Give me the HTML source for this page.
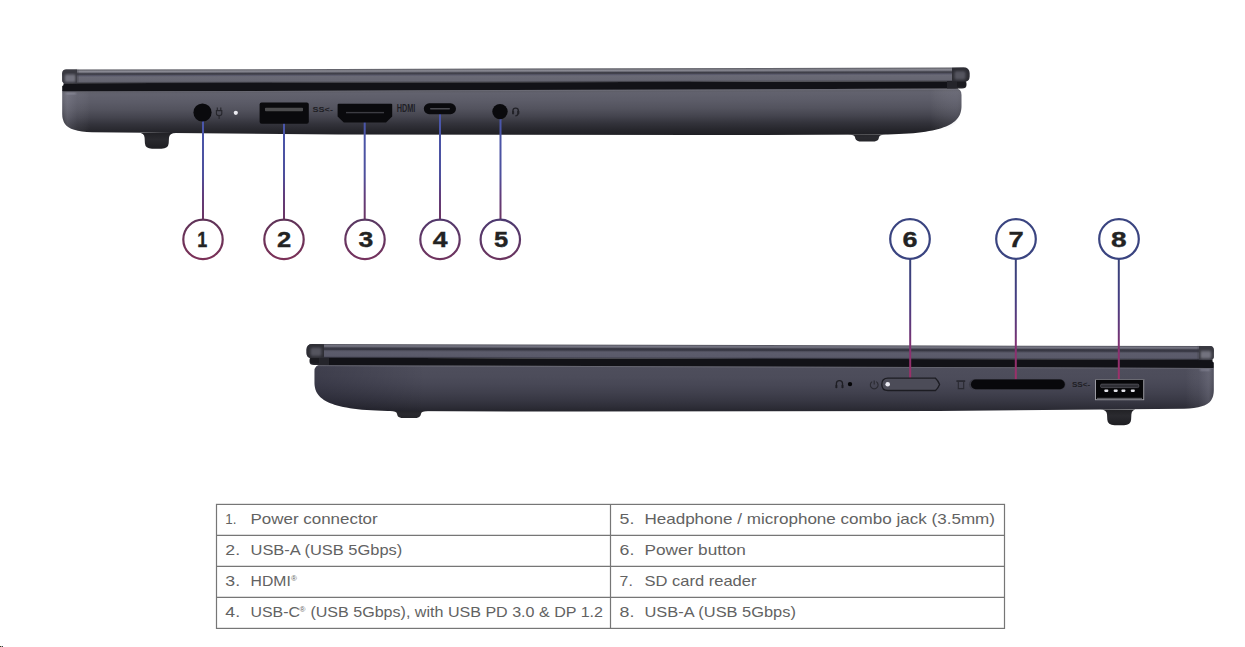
<!DOCTYPE html>
<html><head><meta charset="utf-8">
<style>
html,body{margin:0;padding:0;background:#fff;width:1245px;height:647px;overflow:hidden;}
svg{position:absolute;left:0;top:0;display:block;}
.num{font-family:"Liberation Sans",sans-serif;font-weight:bold;font-size:22.5px;fill:#232323;stroke:#232323;stroke-width:0.35px;}
.tt{font-family:"Liberation Sans",sans-serif;font-size:14.5px;fill:#626262;}
.reg{font-family:"Liberation Sans",sans-serif;font-size:8px;fill:#666;}
.lbl{font-family:"Liberation Sans",sans-serif;font-size:8px;fill:#2a2a30;}
</style></head>
<body>
<svg width="1245" height="647" viewBox="0 0 1245 647">
<defs>
  <linearGradient id="lidG" gradientUnits="userSpaceOnUse" x1="0" y1="67.6" x2="0" y2="81.4">
    <stop offset="0" stop-color="#55555d"/>
    <stop offset="0.06" stop-color="#6e6e76"/>
    <stop offset="0.15" stop-color="#8a8a94"/>
    <stop offset="0.23" stop-color="#6a6a74"/>
    <stop offset="0.3" stop-color="#3e3e48"/>
    <stop offset="0.37" stop-color="#42424c"/>
    <stop offset="0.45" stop-color="#58586a"/>
    <stop offset="0.54" stop-color="#6a6a76"/>
    <stop offset="0.86" stop-color="#666672"/>
    <stop offset="0.93" stop-color="#55555f"/>
    <stop offset="1" stop-color="#1e1e24"/>
  </linearGradient>
  <linearGradient id="baseG" gradientUnits="userSpaceOnUse" x1="0" y1="88.3" x2="0" y2="134.5">
    <stop offset="0" stop-color="#2a2a30"/>
    <stop offset="0.022" stop-color="#70707a"/>
    <stop offset="0.045" stop-color="#5e5e68"/>
    <stop offset="0.08" stop-color="#62626e"/>
    <stop offset="0.25" stop-color="#5c5c68"/>
    <stop offset="0.42" stop-color="#53535e"/>
    <stop offset="0.59" stop-color="#44444e"/>
    <stop offset="0.74" stop-color="#33333b"/>
    <stop offset="0.89" stop-color="#26262c"/>
    <stop offset="1" stop-color="#1f1f24"/>
  </linearGradient>
  <linearGradient id="baseG2" gradientUnits="userSpaceOnUse" x1="0" y1="88.3" x2="0" y2="134.5">
    <stop offset="0" stop-color="#25252c"/>
    <stop offset="0.022" stop-color="#5e5e6b"/>
    <stop offset="0.045" stop-color="#4e4e5c"/>
    <stop offset="0.25" stop-color="#4c4c5a"/>
    <stop offset="0.42" stop-color="#474755"/>
    <stop offset="0.59" stop-color="#40404d"/>
    <stop offset="0.74" stop-color="#383844"/>
    <stop offset="0.89" stop-color="#2e2e38"/>
    <stop offset="1" stop-color="#25252d"/>
  </linearGradient>
  <linearGradient id="lidG2" gradientUnits="userSpaceOnUse" x1="0" y1="67.6" x2="0" y2="81.4">
    <stop offset="0" stop-color="#4a4a54"/>
    <stop offset="0.05" stop-color="#62626e"/>
    <stop offset="0.12" stop-color="#767684"/>
    <stop offset="0.2" stop-color="#62626e"/>
    <stop offset="0.27" stop-color="#3a3a46"/>
    <stop offset="0.38" stop-color="#363642"/>
    <stop offset="0.46" stop-color="#50505e"/>
    <stop offset="0.55" stop-color="#5c5c6c"/>
    <stop offset="0.86" stop-color="#5a5a6a"/>
    <stop offset="0.93" stop-color="#4a4a58"/>
    <stop offset="1" stop-color="#1c1c24"/>
  </linearGradient>
  <linearGradient id="leftHL" gradientUnits="userSpaceOnUse" x1="62" y1="0" x2="90" y2="0">
    <stop offset="0" stop-color="#ffffff" stop-opacity="0"/>
    <stop offset="0.2" stop-color="#b0b0c0" stop-opacity="0.22"/>
    <stop offset="0.55" stop-color="#b0b0c0" stop-opacity="0.08"/>
    <stop offset="1" stop-color="#ffffff" stop-opacity="0"/>
  </linearGradient>
  <linearGradient id="rightHL" gradientUnits="userSpaceOnUse" x1="930" y1="0" x2="962" y2="0">
    <stop offset="0" stop-color="#ffffff" stop-opacity="0"/>
    <stop offset="0.8" stop-color="#b0b0c0" stop-opacity="0.12"/>
    <stop offset="1" stop-color="#ffffff" stop-opacity="0.02"/>
  </linearGradient>
  <linearGradient id="rightDK" gradientUnits="userSpaceOnUse" x1="850" y1="0" x2="962" y2="0">
    <stop offset="0" stop-color="#000010" stop-opacity="0"/>
    <stop offset="0.6" stop-color="#000010" stop-opacity="0.12"/>
    <stop offset="1" stop-color="#000010" stop-opacity="0.2"/>
  </linearGradient>
  <linearGradient id="footG" gradientUnits="userSpaceOnUse" x1="0" y1="128" x2="0" y2="147">
    <stop offset="0" stop-color="#1c1c20"/>
    <stop offset="0.5" stop-color="#2a2a2f"/>
    <stop offset="1" stop-color="#1e1e22"/>
  </linearGradient>
  <linearGradient id="lineTop" gradientUnits="userSpaceOnUse" x1="0" y1="130" x2="0" y2="220">
    <stop offset="0" stop-color="#4a56aa"/>
    <stop offset="0.5" stop-color="#4d4f9c"/>
    <stop offset="0.72" stop-color="#613d7c"/>
    <stop offset="1" stop-color="#6c3462"/>
  </linearGradient>
  <linearGradient id="c1" gradientUnits="userSpaceOnUse" x1="0" y1="219" x2="0" y2="260">
    <stop offset="0" stop-color="#5e3358"/><stop offset="1" stop-color="#7c3158"/>
  </linearGradient>
  <linearGradient id="c3" gradientUnits="userSpaceOnUse" x1="0" y1="219" x2="0" y2="260">
    <stop offset="0" stop-color="#583862"/><stop offset="1" stop-color="#76325e"/>
  </linearGradient>
  <linearGradient id="c4" gradientUnits="userSpaceOnUse" x1="0" y1="219" x2="0" y2="260">
    <stop offset="0" stop-color="#52396c"/><stop offset="1" stop-color="#70335e"/>
  </linearGradient>
  <linearGradient id="c5" gradientUnits="userSpaceOnUse" x1="0" y1="219" x2="0" y2="260">
    <stop offset="0" stop-color="#4c3a70"/><stop offset="1" stop-color="#6c345e"/>
  </linearGradient>
  <linearGradient id="lineBot" gradientUnits="userSpaceOnUse" x1="0" y1="259" x2="0" y2="381">
    <stop offset="0" stop-color="#384278"/>
    <stop offset="0.33" stop-color="#453e82"/>
    <stop offset="0.58" stop-color="#663678"/>
    <stop offset="0.75" stop-color="#8a3070"/>
    <stop offset="1" stop-color="#a03068"/>
  </linearGradient>
  <filter id="bl" x="-20%" y="-20%" width="140%" height="140%"><feGaussianBlur stdDeviation="0.9"/></filter>
  <filter id="bl2" x="-20%" y="-20%" width="140%" height="140%"><feGaussianBlur stdDeviation="0.55"/></filter>
  <g id="body">
    <g transform="matrix(1,-0.002205,0,1,0,2.137)">
    <path d="M138,131 Q144.3,131 144.6,136 L144.9,141.5 Q145.3,146.9 152,146.9 L161.5,146.9 Q168.3,146.9 168.7,141.5 L169,136 Q169.3,131.2 176,131.2 Z" fill="url(#footG)"/>
    <path d="M848,134.2 Q854.6,134.3 855,137 L855.3,138.2 Q856,141.35 862,141.35 L872,141.35 Q878,141.35 878.7,138.2 L879,137 Q879.4,134.3 886,134.2 Z" fill="url(#footG)"/>
    <path d="M62.2,88.3 L955,88.3 Q961.5,88.3 961.5,95 L961.5,106 C961.5,123 947,133.9 882,134.4 L700,134.5 L338,133.1 L92,130.3 Q70,129.5 65,122 Q62.2,118 62.2,112 Z" fill="url(#baseG)"/>
    <path d="M62.2,88.3 L92,88.3 L92,130.3 Q70,129.5 65,122 Q62.2,118 62.2,112 Z" fill="url(#leftHL)"/>
    <path d="M930,88.3 L955,88.3 Q961.5,88.3 961.5,95 L961.5,106 C961.5,118 955,126 945,130 L930,130 Z" fill="url(#rightHL)"/>
    <rect x="66" y="90.6" width="10" height="1.5" fill="#a0a0b0" opacity="0.75" filter="url(#bl)"/>
    <path d="M63.5,81.2 L958,81.2 L958,88.6 L63.5,89.5 Q62.2,89.5 62.2,88.2 L62.2,84 Q63.5,83.5 63.5,82.5 Z" fill="#121217"/>
    <path d="M62.5,89.5 L958,88.6 L958,89.5 L62.5,90.5 Z" fill="#6a6a74" opacity="0.7"/>
    <path d="M947,80 L962,80 Q966.5,80 966.5,83.5 L966.5,85 Q966.5,88.5 962,88.5 L947,88.5 Z" fill="#25252b"/>
    <path d="M957,81 L963,81 Q966,81 966,83.5 L966,84.5 Q966,86.8 963,86.8 L957,86.8 Z" fill="#1b1b20"/>
    <path d="M62.2,71.6 Q62.2,67.6 66.2,67.6 L963.5,67.6 Q969.5,67.6 969.5,73.6 L969.5,76.4 Q969.5,81.4 964.5,81.4 L65.7,81.4 Q62.2,81.4 62.2,77.9 Z" fill="url(#lidG)"/>
    <path d="M62.2,71.6 Q62.2,67.6 66.2,67.6 L77,67.6 L77,81.4 L65.7,81.4 Q62.2,81.4 62.2,77.9 Z" fill="#393941"/>
    <rect x="64.8" y="72.6" width="10.8" height="7.4" rx="1.5" fill="#72727e" filter="url(#bl)"/>
    <rect x="76" y="68.5" width="2.4" height="12.5" fill="#3a3a42" opacity="0.5" filter="url(#bl)"/>
    <path d="M952,67.6 L963.5,67.6 Q969.5,67.6 969.5,73.6 L969.5,76.4 Q969.5,81.4 964.5,81.4 L952,81.4 Z" fill="#2e2e35"/>
    <rect x="954.5" y="71.3" width="11" height="8.2" rx="2" fill="#55555f" filter="url(#bl)"/>
    </g>
  </g>
<g id="body2">
    <g transform="matrix(1,-0.002205,0,1,0,2.137)">
    <path d="M138,131 Q144.3,131 144.6,136 L144.9,141.5 Q145.3,146.9 152,146.9 L161.5,146.9 Q168.3,146.9 168.7,141.5 L169,136 Q169.3,131.2 176,131.2 Z" fill="url(#footG)"/>
    <path d="M848,134.2 Q854.6,134.3 855,137 L855.3,138.2 Q856,141.35 862,141.35 L872,141.35 Q878,141.35 878.7,138.2 L879,137 Q879.4,134.3 886,134.2 Z" fill="url(#footG)"/>
    <path d="M62.2,88.3 L955,88.3 Q961.5,88.3 961.5,95 L961.5,106 C961.5,123 947,133.9 882,134.4 L700,134.5 L338,133.1 L92,130.3 Q70,129.5 65,122 Q62.2,118 62.2,112 Z" fill="url(#baseG2)"/>
    <path d="M62.2,88.3 L92,88.3 L92,130.3 Q70,129.5 65,122 Q62.2,118 62.2,112 Z" fill="url(#leftHL)"/>
    <path d="M850,88.3 L955,88.3 Q961.5,88.3 961.5,95 L961.5,106 C961.5,123 947,133.9 882,134.4 L850,134.4 Z" fill="url(#rightDK)"/>
    <rect x="66" y="90.6" width="10" height="1.5" fill="#a0a0b0" opacity="0.75" filter="url(#bl)"/>
    <path d="M63.5,81.2 L958,81.2 L958,88.6 L63.5,89.5 Q62.2,89.5 62.2,88.2 L62.2,84 Q63.5,83.5 63.5,82.5 Z" fill="#121217"/>
    <path d="M62.5,89.5 L958,88.6 L958,89.5 L62.5,90.5 Z" fill="#6a6a74" opacity="0.7"/>
    <path d="M947,80 L962,80 Q966.5,80 966.5,83.5 L966.5,85 Q966.5,88.5 962,88.5 L947,88.5 Z" fill="#25252b"/>
    <path d="M957,81 L963,81 Q966,81 966,83.5 L966,84.5 Q966,86.8 963,86.8 L957,86.8 Z" fill="#1b1b20"/>
    <path d="M62.2,71.6 Q62.2,67.6 66.2,67.6 L963.5,67.6 Q969.5,67.6 969.5,73.6 L969.5,76.4 Q969.5,81.4 964.5,81.4 L65.7,81.4 Q62.2,81.4 62.2,77.9 Z" fill="url(#lidG2)"/>
    <path d="M62.2,71.6 Q62.2,67.6 66.2,67.6 L77,67.6 L77,81.4 L65.7,81.4 Q62.2,81.4 62.2,77.9 Z" fill="#393941"/>
    <rect x="64.8" y="72.6" width="10.8" height="7.4" rx="1.5" fill="#72727e" filter="url(#bl)"/>
    <rect x="76" y="68.5" width="2.4" height="12.5" fill="#3a3a42" opacity="0.5" filter="url(#bl)"/>
    <path d="M952,67.6 L963.5,67.6 Q969.5,67.6 969.5,73.6 L969.5,76.4 Q969.5,81.4 964.5,81.4 L952,81.4 Z" fill="#2e2e35"/>
    <rect x="954.5" y="71.3" width="11" height="8.2" rx="2" fill="#55555f" filter="url(#bl)"/>
    </g>
  </g>
</defs>

<!-- TOP LAPTOP -->
<use href="#body"/>
<!-- top lines -->
<g stroke="url(#lineTop)" stroke-width="2" fill="none">
  <line x1="203" y1="116" x2="203" y2="219.5"/>
  <line x1="284" y1="118" x2="284" y2="219.5"/>
  <line x1="364.7" y1="118" x2="364.7" y2="219.5"/>
  <line x1="440" y1="110" x2="440" y2="219.5"/>
  <line x1="500.5" y1="114" x2="500.5" y2="219.5"/>
</g>
<!-- ports top -->
<circle cx="202.5" cy="112.5" r="9.1" fill="#0a0a0d"/>
<g fill="none" stroke="#26262c" stroke-width="1.1">
  <path d="M217.3,107.6 L217.3,110.8 M220.8,107.6 L220.8,110.8"/>
  <path d="M216.4,110.6 L221.8,110.6 L221.8,113.4 Q221.8,115.6 219.1,115.6 Q216.4,115.6 216.4,113.4 Z"/>
  <path d="M219.1,115.6 L219.1,119"/>
</g>
<circle cx="235.8" cy="112.8" r="2.1" fill="#ececf2"/>
<rect x="259.6" y="102.4" width="49.2" height="21.3" rx="2" fill="#0a0a0d"/>
<rect x="265" y="107.8" width="38" height="3.4" rx="0.8" fill="#4c4c4e"/>
<text class="lbl" x="312.6" y="111.9" textLength="20.3" lengthAdjust="spacingAndGlyphs" style="font-size:7.2px;font-weight:bold;fill:#1e1e24">SS&lt;-</text>
<path d="M337.6,104.7 Q337.6,103.7 338.6,103.7 L391.2,103.7 Q392.2,103.7 392.2,104.7 L392.2,116.4 L386,122.6 L343.8,122.6 L337.6,116.4 Z" fill="#0a0a0d"/>
<rect x="346" y="111.9" width="38" height="1.4" fill="#3c3c42"/>
<text class="lbl" x="396.7" y="111.9" textLength="18.6" lengthAdjust="spacingAndGlyphs" style="font-size:10.5px;font-weight:bold;fill:#202026">HDMI</text>
<rect x="423.8" y="103.3" width="32.2" height="10.9" rx="5.45" fill="#0a0a0d"/>
<rect x="430" y="108.1" width="20" height="1.4" rx="0.7" fill="#4a4a50"/>
<circle cx="500" cy="111.6" r="7.7" fill="#0a0a0d"/>
<g fill="none" stroke="#222228" stroke-width="1.35">
  <path d="M512.9,113.3 L512.9,110.9 A2.75,2.75 0 0 1 518.4,110.9 L518.4,113.3"/>
  <path d="M517.9,113.6 Q517.9,115.8 515.3,115.8"/>
</g>
<rect x="512" y="110.8" width="2.1" height="3.6" rx="0.8" fill="#222228"/>
<rect x="517.2" y="110.8" width="2.1" height="3.6" rx="0.8" fill="#222228"/>

<!-- top circles -->
<g stroke-width="2.2" fill="#fff">
  <circle cx="203" cy="239.4" r="19.7" stroke="url(#c1)"/>
  <circle cx="284" cy="239.4" r="19.7" stroke="url(#c1)"/>
  <circle cx="365" cy="239.4" r="19.7" stroke="url(#c3)"/>
  <circle cx="440" cy="239.4" r="19.7" stroke="url(#c4)"/>
  <circle cx="500.3" cy="239.4" r="19.7" stroke="url(#c5)"/>
</g>
<g class="num" text-anchor="middle">
  <text x="202.3" y="247" textLength="10" lengthAdjust="spacingAndGlyphs">1</text>
  <text x="284" y="247" textLength="14.2" lengthAdjust="spacingAndGlyphs">2</text>
  <text x="365.8" y="247" textLength="14.8" lengthAdjust="spacingAndGlyphs">3</text>
  <text x="440.2" y="247" textLength="14.8" lengthAdjust="spacingAndGlyphs">4</text>
  <text x="501" y="247" textLength="14.2" lengthAdjust="spacingAndGlyphs">5</text>
</g>

<!-- BOTTOM LAPTOP -->
<use href="#body2" transform="translate(1276,276.5) scale(-1,1)"/>
<g stroke="url(#lineBot)" stroke-width="2" fill="none">
  <line x1="910.2" y1="258.5" x2="910.2" y2="379"/>
  <line x1="1015.8" y1="258.5" x2="1015.8" y2="381"/>
  <line x1="1118.8" y1="258.5" x2="1118.8" y2="380"/>
</g>
<!-- bottom ports -->
<g fill="none" stroke="#1e1e24" stroke-width="1.3">
  <path d="M836.4,388 L836.4,383.6 A3.05,3.05 0 0 1 842.5,383.6 L842.5,388"/>
</g>
<rect x="835.5" y="384.8" width="1.8" height="3.4" rx="0.7" fill="#1e1e24"/>
<rect x="841.6" y="384.8" width="1.8" height="3.4" rx="0.7" fill="#1e1e24"/>
<circle cx="850" cy="384.1" r="2.2" fill="#050507"/>
<g fill="none" stroke="#2a2a31" stroke-width="1.1">
  <path d="M872.2,381.6 A3.9,3.9 0 1 0 876.2,381.6"/>
  <path d="M874.2,380.4 L874.2,384.6"/>
</g>
<path d="M881.8,384.4 Q881.8,378.2 888,378.2 L935.5,378.2 Q938,380.5 939.6,384.4 Q938,388.2 935.5,390.5 L888,390.5 Q881.8,390.5 881.8,384.4 Z" fill="#4c4c58" stroke="#1c1c22" stroke-width="1.3"/>
<circle cx="887.7" cy="384.3" r="2.3" fill="#ececf4"/>
<g fill="none" stroke="#2a2a32" stroke-width="1.1">
  <path d="M958.3,381.8 L958.3,388.6 L963.7,388.6 L963.7,381.8"/>
</g>
<rect x="956.4" y="380.2" width="8.8" height="1.8" fill="#2a2a32"/>
<rect x="969" y="379.2" width="96.5" height="10.4" rx="5.2" fill="#3a3a44"/>
<rect x="970.9" y="379.6" width="93.9" height="9.6" rx="4.8" fill="#08080b"/>
<text class="lbl" x="1071.9" y="387.2" textLength="18.3" lengthAdjust="spacingAndGlyphs" style="font-size:6.6px;font-weight:bold;fill:#1e1e24">SS&lt;-</text>
<rect x="1095" y="379" width="49.2" height="21.2" fill="#9a9aa2"/>
<rect x="1095" y="379" width="49.2" height="1.2" fill="#6a6a72"/>
<rect x="1096" y="380" width="47.2" height="19.2" fill="#060608"/>
<rect x="1100.6" y="384.1" width="38.2" height="3.5" rx="1.2" fill="#2e2e34" stroke="#5a5a62" stroke-width="0.7"/>
<g fill="#e4e4ea">
  <rect x="1104.3" y="389.4" width="4" height="2.5" rx="0.8"/>
  <rect x="1113.7" y="389.4" width="4" height="2.5" rx="0.8"/>
  <rect x="1121.4" y="389.4" width="4" height="2.5" rx="0.8"/>
  <rect x="1130.8" y="389.4" width="4" height="2.5" rx="0.8"/>
</g>
<rect x="1097" y="397.8" width="45" height="1.3" fill="#6a6a72" opacity="0.8"/>

<g stroke="#3a4480" stroke-width="2.2" fill="#fff">
  <circle cx="910" cy="239" r="19.8"/>
  <circle cx="1016" cy="239" r="19.8"/>
  <circle cx="1119" cy="239" r="19.8"/>
</g>
<g class="num" text-anchor="middle">
  <text x="910" y="247" textLength="15" lengthAdjust="spacingAndGlyphs">6</text>
  <text x="1016.2" y="247" textLength="15.2" lengthAdjust="spacingAndGlyphs">7</text>
  <text x="1118.7" y="247" textLength="15.6" lengthAdjust="spacingAndGlyphs">8</text>
</g>

<!-- TABLE -->
<g stroke="#767676" stroke-width="1.2" fill="none">
  <rect x="216.5" y="504.4" width="788" height="124"/>
  <line x1="610.5" y1="504.4" x2="610.5" y2="628.4"/>
  <line x1="216.5" y1="535.3" x2="1004.5" y2="535.3"/>
  <line x1="216.5" y1="566.3" x2="1004.5" y2="566.3"/>
  <line x1="216.5" y1="597.4" x2="1004.5" y2="597.4"/>
</g>
<g class="tt">
  <text x="225.3" y="523.7" textLength="11.2" lengthAdjust="spacingAndGlyphs">1.</text><text x="250.5" y="523.7" textLength="127.2" lengthAdjust="spacingAndGlyphs">Power connector</text>
  <text x="225.3" y="554.7" textLength="14.8" lengthAdjust="spacingAndGlyphs">2.</text><text x="250.5" y="554.7" textLength="151.8" lengthAdjust="spacingAndGlyphs">USB-A (USB 5Gbps)</text>
  <text x="225.3" y="585.8" textLength="14.8" lengthAdjust="spacingAndGlyphs">3.</text><text x="250.6" y="585.8" textLength="40.2" lengthAdjust="spacingAndGlyphs">HDMI</text><text class="reg" x="291" y="581">®</text>
  <text x="225.3" y="616.8" textLength="14.8" lengthAdjust="spacingAndGlyphs">4.</text><text x="250.5" y="616.8" textLength="49.4" lengthAdjust="spacingAndGlyphs">USB-C</text><text class="reg" x="299.6" y="612">®</text><text x="310.4" y="616.8" textLength="292.6" lengthAdjust="spacingAndGlyphs">(USB 5Gbps), with USB PD 3.0 &amp; DP 1.2</text>
  <text x="619.6" y="523.7" textLength="14.8" lengthAdjust="spacingAndGlyphs">5.</text><text x="644.4" y="523.7" textLength="350.6" lengthAdjust="spacingAndGlyphs">Headphone / microphone combo jack (3.5mm)</text>
  <text x="619.6" y="554.7" textLength="14.8" lengthAdjust="spacingAndGlyphs">6.</text><text x="644.6" y="554.7" textLength="101.3" lengthAdjust="spacingAndGlyphs">Power button</text>
  <text x="619.6" y="585.8" textLength="13.2" lengthAdjust="spacingAndGlyphs">7.</text><text x="644.5" y="585.8" textLength="112" lengthAdjust="spacingAndGlyphs">SD card reader</text>
  <text x="619.6" y="616.8" textLength="14.8" lengthAdjust="spacingAndGlyphs">8.</text><text x="644.5" y="616.8" textLength="151.4" lengthAdjust="spacingAndGlyphs">USB-A (USB 5Gbps)</text>
</g>
<rect x="0" y="646" width="1" height="1" fill="#3a4020"/><rect x="2" y="646" width="1" height="1" fill="#404050"/><rect x="1" y="646" width="1" height="1" fill="#b0b0a8"/>
</svg>
</body></html>
